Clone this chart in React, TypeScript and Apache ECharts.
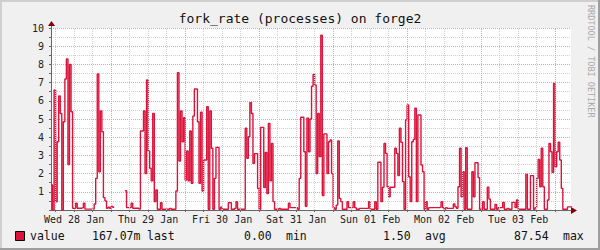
import { useEffect, useRef } from 'react';
import * as echarts from 'echarts';

// 30-minute samples of fork_rate, starting Wed 28 Jan 04:30 (hours since Wed 28 Jan 00:00)
const START_HOUR = 4.5;
const END_HOUR = 173.15;
const SLOT_HOURS = 0.5;

const seg1 = [1.37, 0, 6.6, 0.45, 3.75, 6.26, 5.3, 0, 4.85, 7.2,
  8.3, 2.5, 8.0, 5.4, 0.1, 0.1, 0.37, 0.1, 0.1, 0.1,
  0.13, 0.37, 0.05, 0.05, 0.05, 0.05, 0.05, 0.05, 0.33, 1.74,
  7.47, 2.1, 5.44, 4.3, 0.68, 0.5, 0.1, 0.15, 0.1, 0.2,
  0.15, null, null, null, null, null, null, null, 1.06, 0.13,
  0.13, 0.13, 0.37, 0.1, 0.1, 0.1, 0.1];
const seg2 = [0.05, 4.34, 4.34, 5.44, 2.0, 7.14, 3.24, 2.29, 1.6, 5.31,
  0.46, 1.1, 0.04, 0.04, 0.4, 0.04, 0.04, 0.04, 0.04, 0.04,
  0.09, 0.04, 0.04, 0.04, 1.04, 7.55, 2.69, 5.44, 3.75, 5.07,
  1.65, 3.24, 1.6, 4.34, 1.47, 5.16, 6.65, 6.65, 4.85, 1.47,
  5.37, 1.04, 2.75, 2.75, 5.68, 0.04, 5.44, 3.39, 0.04, 1.74,
  3.44, 3.44, 0.04, 0.16, 0.04, 0.04, 0.04];
const seg3 = [0.04, 0.4, 0.4, 0.04, 0.04, 0.09, 0.46, 0.04, 0.04, 0.04,
  0.04, 0.04, 4.49, 2.84, 4.03, 5.9, 5.3, 2.56, 3.1, 3.1,
  1.19, 0.04, 4.54, 4.54, 1.23, 3.16, 0.9, 4.76, 1.6, 3.66,
  0.46, 0.04, 0.04, 0.04, 0.09, 0.04, 0.04, 0.04, 0.04, 0.04,
  0.37, 0.13, 0.13, 0.13, 0.13, 0.13, 0.04, 1.74, 5.1, 5.1,
  3.2, 0.2, 5.05, 3.2, 5.0, 6.8, 7.45];
const seg4 = [6.87, 2.0, 5.3, 2.93, 9.6, 0.8, 4.18, 4.18, 2.0, 3.75,
  3.85, 2.0, 0.13, 0.04, 0.27, 3.8, 0.64, 0.46, 0.04, 0.04,
  0.04, 0.46, 0.13, 0.13, 0.13, 0.46, 0.13, 0.04, 0.04, 0.09,
  0.09, 0.09, 0.09, 0.09, 0.09, 0.46, 0.04, 0.04, 0.04, 0.46,
  0.04, 2.62, 2.62, 0.46, 1.25, 3.66, 3.11, 1.28, 0.73, 1.25,
  1.25, 1.25, 3.39, 3.11, 1.89, 4.49, 3.72];
const seg5 = [1.56, 0.04, 4.95, 5.77, 1.83, 0.46, 3.75, 3.88, 5.59, 0.46,
  5.22, 5.22, 2.47, 2.1, 0.04, 0.46, 0.04, 0.13, 0.13, 0.13,
  0.13, 0.13, 0.13, 0.13, 0.16, 0.46, 0.13, 0.04, 0.13, 0.09,
  0.09, 0.09, 0.09, 0.33, 0.18, 0.09, 1.28, 3.39, 0.73, 2.1,
  0.04, 3.42, 0.04, 0.04, 0.04, 2.1, 0.73, 2.6, 2.6, 1.78,
  0.04, 0.04, 0.46, 0.04, 0.04, 1.25, 0.6];
const seg6 = [0.04, 0.04, 0.04, 0.31, 0.04, 0.13, 0.13, 0.13, 0.42, 0.04,
  0.04, 0.09, 0.04, 0.04, 0.42, 0.42, 0.13, 0.55, 0.04, 0.04,
  0.04, 0.04, 0.04, 1.96, 0.04, 0.04, 1.89, 1.89, 0.04, 0.13,
  1.74, 2.78, 1.28, 3.39, 1.28, 0.04, 0.04, 0.55, 3.66, 3.2,
  2.07, 6.96, 2.38, 3.2, 3.72, 2.75, 1.19, 0.04, 0.04, 0.04,
  0.17, 0.17, 0.17];

const forkRate: (number | null)[] = [...seg1, ...seg2, ...seg3, ...seg4, ...seg5, ...seg6];

const dayLabels = ['Wed 28 Jan', 'Thu 29 Jan', 'Fri 30 Jan', 'Sat 31 Jan', 'Sun 01 Feb', 'Mon 02 Feb', 'Tue 03 Feb'];
const dayLabelHours = [12, 36, 60, 84, 108, 132, 156];
const gridHours = [6, 12, 18, 24, 30, 36, 42, 48, 54, 60, 66, 72, 78, 84, 90, 96, 102, 108, 114, 120,
  126, 132, 138, 144, 150, 156, 162, 168];

const TITLE = 'fork_rate (processes) on forge2';
const WATERMARK = 'RRDTOOL / TOBI OETIKER';
const legendName = 'value';
const statValues = ['167.07m', '0.00', '1.50', '87.54'];
const statNames = ['last', 'min', 'avg', 'max'];

const MONO = "'DejaVu Sans Mono', monospace";
const LINE_COLOR = '#DC143C';
const MAJOR = '#e4a3a3';
const MINOR = '#cfcfcf';

export default function App() {
  const ref = useRef<HTMLDivElement>(null);
  useEffect(() => {
    const chart = echarts.init(ref.current!, null, { renderer: 'svg' });
    const data: any[] = forkRate.map((v, i) => [START_HOUR + SLOT_HOURS * i, v]);
    data.push([START_HOUR + SLOT_HOURS * forkRate.length, forkRate[forkRate.length - 1]]);

    const statX = [92, 244, 383, 514];
    const nameX = [147, 286, 425, 563];
    const legendTexts: any[] = [];
    statValues.forEach((s, i) => {
      legendTexts.push({
        type: 'text', x: statX[i], y: 236,
        style: { text: s, font: `11.5px ${MONO}`, fill: '#111', verticalAlign: 'middle', align: 'left' },
      });
      legendTexts.push({
        type: 'text', x: nameX[i], y: 236,
        style: { text: statNames[i], font: `11.5px ${MONO}`, fill: '#111', verticalAlign: 'middle', align: 'left' },
      });
    });

    chart.setOption({
      animation: false,
      backgroundColor: '#F0F0F0',
      grid: {
        left: 51, top: 28, right: 29, bottom: 40,
        show: true, backgroundColor: '#FFFFFF', borderWidth: 0,
      },
      xAxis: {
        type: 'value',
        min: START_HOUR,
        max: END_HOUR,
        axisLine: { show: true, lineStyle: { color: '#666', width: 1 } },
        axisTick: { show: true, length: 2, customValues: gridHours, lineStyle: { color: '#666' } },
        axisLabel: {
          customValues: dayLabelHours,
          formatter: (v: number) => dayLabels[Math.round((v - 12) / 24)] ?? '',
          fontFamily: MONO, fontSize: 10, color: '#222', margin: 4,
        },
        splitLine: { show: false },
      },
      yAxis: {
        type: 'value',
        min: 0,
        max: 10,
        interval: 0.5,
        axisLine: { show: true, lineStyle: { color: '#666', width: 1 } },
        axisTick: { show: true, length: 2, lineStyle: { color: '#666' } },
        axisLabel: {
          formatter: (v: number) => (v > 0 && Number.isInteger(v) ? String(v) : ''),
          fontFamily: MONO, fontSize: 10, color: '#222', margin: 7,
        },
        splitLine: { show: true, lineStyle: { color: [MAJOR, MINOR], type: [1, 1], width: 1 } },
      },
      series: [
        {
          type: 'line',
          data: [],
          silent: true,
          z: 1,
          markLine: {
            silent: true,
            symbol: 'none',
            label: { show: false },
            animation: false,
            lineStyle: { type: [1, 1], width: 1 },
            emphasis: { disabled: true },
            data: gridHours.map((h) => ({ xAxis: h, lineStyle: { color: h % 24 === 0 ? MAJOR : MINOR, type: [1, 1], width: 1 } })),
          },
        },
        {
          type: 'line',
          name: legendName,
          data,
          step: 'end',
          showSymbol: false,
          symbol: 'none',
          connectNulls: false,
          z: 3,
          lineStyle: { color: LINE_COLOR, width: 1.4 },
          itemStyle: { color: LINE_COLOR },
          silent: true,
        },
      ],
      graphic: [
        { type: 'rect', shape: { x: 0, y: 0, width: 600, height: 2 }, style: { fill: '#CFCFCF' }, silent: true },
        { type: 'rect', shape: { x: 0, y: 0, width: 2, height: 250 }, style: { fill: '#CFCFCF' }, silent: true },
        { type: 'rect', shape: { x: 0, y: 248, width: 600, height: 2 }, style: { fill: '#9E9E9E' }, silent: true },
        { type: 'rect', shape: { x: 598, y: 0, width: 2, height: 250 }, style: { fill: '#9E9E9E' }, silent: true },
        {
          type: 'text', x: 300, y: 18,
          style: { text: TITLE, font: `13px ${MONO}`, fill: '#111', align: 'center', verticalAlign: 'middle' },
        },
        {
          type: 'text', x: 591, y: 5, rotation: -Math.PI / 2,
          style: { text: WATERMARK, font: `8.5px ${MONO}`, fill: '#a8a8a8', align: 'left', verticalAlign: 'middle' },
        },
        { type: 'line', shape: { x1: 51.5, y1: 28, x2: 51.5, y2: 25 }, style: { stroke: '#666', lineWidth: 1 } },
        { type: 'polygon', shape: { points: [[48, 26], [55, 26], [51.5, 21]] }, style: { fill: '#7F0000' } },
        { type: 'polygon', shape: { points: [[571, 207], [571, 214], [577, 210.5]] }, style: { fill: '#7F0000' } },
        { type: 'rect', shape: { x: 15.5, y: 231.5, width: 9, height: 9 }, style: { fill: LINE_COLOR, stroke: '#000', lineWidth: 1 } },
        {
          type: 'text', x: 30, y: 236,
          style: { text: legendName, font: `11.5px ${MONO}`, fill: '#111', verticalAlign: 'middle', align: 'left' },
        },
        ...legendTexts,
      ],
    });
    return () => chart.dispose();
  }, []);
  return <div ref={ref} style={{ position: 'fixed', left: 0, top: 0, width: 600, height: 250 }} />;
}
